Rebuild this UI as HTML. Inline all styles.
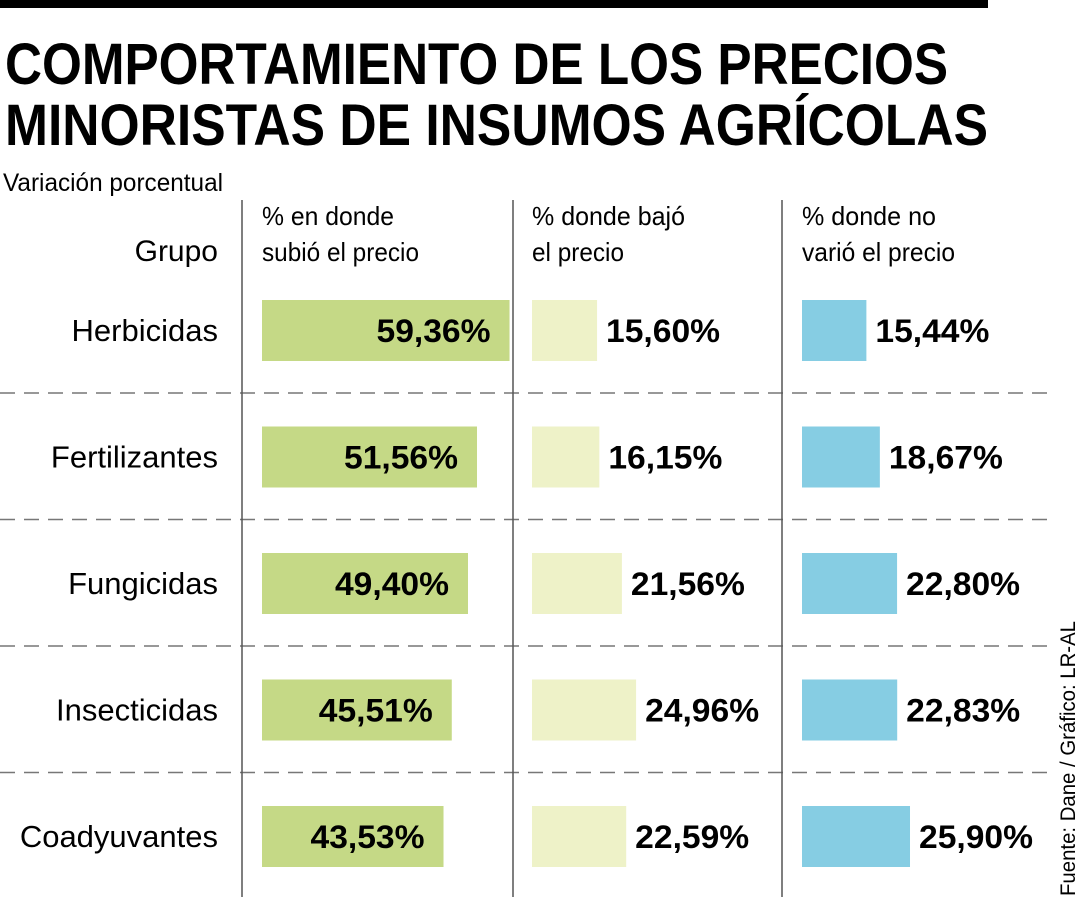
<!DOCTYPE html>
<html><head><meta charset="utf-8"><style>
body{margin:0;background:#fff}
svg{display:block;font-family:"Liberation Sans",sans-serif}
</style></head><body>
<svg id="c" width="1080" height="900" viewBox="0 0 1080 900">
<rect x="0" y="0" width="988" height="8" fill="#000"/>
<text x="5" y="84" font-size="58" font-weight="bold" textLength="943" lengthAdjust="spacingAndGlyphs">COMPORTAMIENTO DE LOS PRECIOS</text>
<text x="5" y="145" font-size="58" font-weight="bold" textLength="983" lengthAdjust="spacingAndGlyphs">MINORISTAS DE INSUMOS AGRÍCOLAS</text>
<text x="3" y="191" font-size="25" textLength="220" lengthAdjust="spacingAndGlyphs">Variación porcentual</text>
<text x="218" y="261" font-size="30" text-anchor="end">Grupo</text>
<g font-size="26">
<text x="262" y="225" textLength="132" lengthAdjust="spacingAndGlyphs">% en donde</text>
<text x="262" y="261" textLength="157" lengthAdjust="spacingAndGlyphs">subió el precio</text>
<text x="532" y="225" textLength="153" lengthAdjust="spacingAndGlyphs">% donde bajó</text>
<text x="532" y="261" textLength="92" lengthAdjust="spacingAndGlyphs">el precio</text>
<text x="802" y="225" textLength="134" lengthAdjust="spacingAndGlyphs">% donde no</text>
<text x="802" y="261" textLength="153" lengthAdjust="spacingAndGlyphs">varió el precio</text>
</g>
<text transform="translate(1075,896) rotate(-90)" font-size="21" textLength="275" lengthAdjust="spacingAndGlyphs">Fuente: Dane / Gráfico: LR-AL</text>
<g id="plot"></g>
</svg>
<script>
const groups = ["Herbicidas","Fertilizantes","Fungicidas","Insecticidas","Coadyuvantes"];
const subio = [59.36,51.56,49.40,45.51,43.53];
const bajo = [15.60,16.15,21.56,24.96,22.59];
const novario = [15.44,18.67,22.80,22.83,25.90];
const NS="http://www.w3.org/2000/svg";
const g=document.getElementById('plot');
const rowY=i=>330+i*126.5;
const w=v=>v*4.17;
const fmt=v=>v.toFixed(2).replace('.',',')+'%';
function mk(t,a){const e=document.createElementNS(NS,t);for(const k in a)e.setAttribute(k,a[k]);g.appendChild(e);return e;}
for(let i=0;i<groups.length-1;i++){
  const l=mk('line',{x1:0,x2:1052,y1:rowY(i)+63,y2:rowY(i)+63,stroke:'#777','stroke-width':1.5,'stroke-dasharray':'15 9'});
  
  
}
[242,513,782].forEach(x=>{
  const l=mk('line',{x1:x,x2:x,y1:200,y2:897,stroke:'#555','stroke-width':1.5});
  
  
});
const cols=[{x:262,d:subio,c:'#c5d986',inside:true,n:'subio'},{x:532,d:bajo,c:'#eef2c8',n:'bajo'},{x:802,d:novario,c:'#86cde3',n:'novario'}];
groups.forEach((gr,i)=>{
  const y=rowY(i);
  const t=mk('text',{x:218,y:y+11,'font-size':31});
  t.setAttribute('text-anchor','end');
  t.textContent=gr;
  
  
  cols.forEach(c=>{
    const v=c.d[i];
    const r=mk('rect',{x:c.x,y:y-30,width:w(v),height:61,fill:c.c});
    
    
    const lt=mk('text',{y:y+12,'font-size':32,'font-weight':'bold'});
    lt.setAttribute('textLength',114);
    lt.setAttribute('lengthAdjust','spacingAndGlyphs');
    if(c.inside){lt.setAttribute('x',c.x+w(v)-19-114);}
    else lt.setAttribute('x',c.x+w(v)+9);
    lt.textContent=fmt(v);
    
    
  });
});
</script>
</body></html>
